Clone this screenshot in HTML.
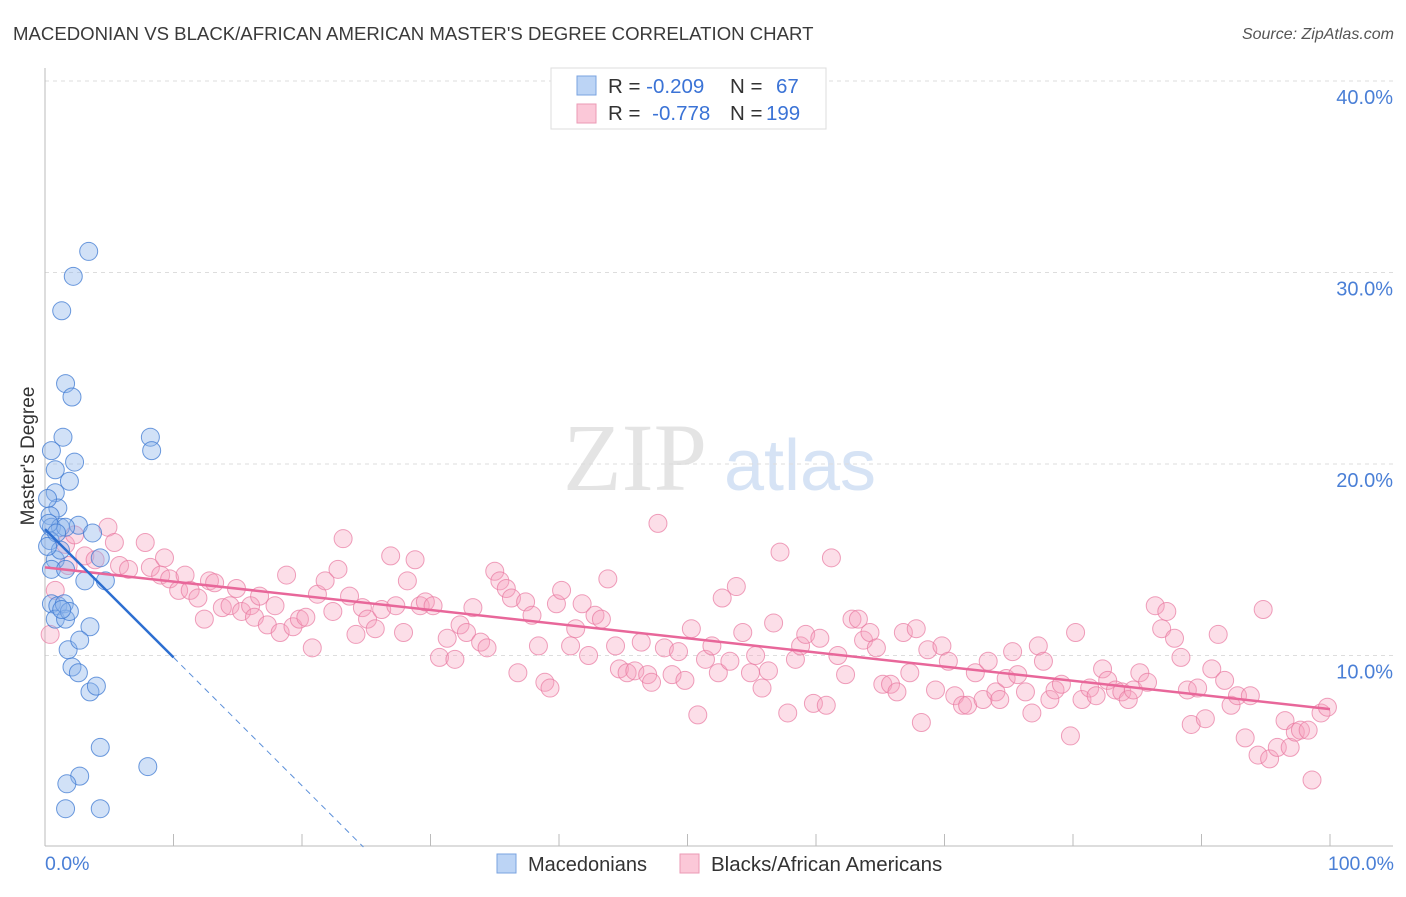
<!DOCTYPE html>
<html><head><meta charset="utf-8"><style>
body{margin:0;background:#fff;font-family:"Liberation Sans",sans-serif;}
svg text{font-family:"Liberation Sans",sans-serif;}
</style></head><body>
<svg width="1406" height="892" xmlns="http://www.w3.org/2000/svg">
<text x="13" y="40" font-size="18.6" fill="#3a3a3a">MACEDONIAN VS BLACK/AFRICAN AMERICAN MASTER'S DEGREE CORRELATION CHART</text>
<text x="1394" y="39" font-size="16" fill="#555" font-style="italic" text-anchor="end">Source: ZipAtlas.com</text>
<g>
<text x="635" y="490" font-size="96" fill="#e4e4e4" text-anchor="middle" font-family="Liberation Serif" style="font-family:'Liberation Serif',serif">ZIP</text>
<text x="800" y="490" font-size="72" fill="#d6e3f5" text-anchor="middle">atlas</text>
</g>
<g id="grid"></g>
<g id="axes"></g>
<g id="marks"></g>
<text x="34" y="456" font-size="19" fill="#333" text-anchor="middle" transform="rotate(-90 34 456)">Master's Degree</text>
<text x="45" y="870" font-size="19.5" fill="#4a7fd6">0.0%</text>
<text x="1394" y="870" font-size="19.5" fill="#4a7fd6" text-anchor="end">100.0%</text>
<g>
<rect x="551" y="68" width="275" height="61" fill="#fff" stroke="#ddd"/>
<rect x="577" y="76" width="19" height="19" fill="#bcd4f5" stroke="#7aa3e0"/>
<rect x="577" y="104" width="19" height="19" fill="#fbc8d8" stroke="#eb9ab5"/>
<text x="608" y="93" font-size="20.5" fill="#333">R = <tspan fill="#3b73d6">-0.209</tspan><tspan x="730">N = </tspan><tspan x="776" fill="#3b73d6">67</tspan></text>
<text x="608" y="120" font-size="20.5" fill="#333">R = <tspan fill="#3b73d6" dx="6">-0.778</tspan><tspan x="730">N = </tspan><tspan x="766" fill="#3b73d6">199</tspan></text>
</g>
<g>
<rect x="497" y="854" width="19" height="19" fill="#bcd4f5" stroke="#7aa3e0"/>
<text x="528" y="871" font-size="20" fill="#333">Macedonians</text>
<rect x="680" y="854" width="19" height="19" fill="#fbc8d8" stroke="#eb9ab5"/>
<text x="711" y="871" font-size="20.5" fill="#333">Blacks/African Americans</text>
</g>
</svg>
<script>
const yTicks=[10,20,30,40];
const yTickLabels=["10.0%","20.0%","30.0%","40.0%"];
const xTicks=[10,20,30,40,50,60,70,80,90,100];
const blueX=[3.4,2.2,1.3,1.6,2.1,1.4,8.2,8.3,0.5,2.3,0.8,1.9,0.8,1.0,0.2,0.4,0.5,1.2,2.6,3.7,1.6,0.4,0.8,4.3,1.2,0.5,1.6,4.7,3.1,0.5,1.0,1.5,0.8,1.6,1.9,3.5,1.8,2.7,2.1,2.6,3.5,4.0,4.3,8.0,2.7,1.7,1.6,4.3,0.3,0.9,0.2,1.3];
const blueY=[31.1,29.8,28.0,24.2,23.5,21.4,21.4,20.7,20.7,20.1,19.7,19.1,18.5,17.7,18.2,17.3,16.7,16.7,16.8,16.4,16.7,16.0,15.0,15.1,15.5,14.5,14.5,13.9,13.9,12.7,12.6,12.7,11.9,11.9,12.3,11.5,10.3,10.8,9.4,9.1,8.1,8.4,5.2,4.2,3.7,3.3,2.0,2.0,16.9,16.4,15.7,12.4];
const pinkX=[0.4,0.8,1.6,1.8,2.3,3.1,3.9,4.9,5.4,5.8,6.5,7.8,8.2,9.0,9.3,9.7,10.4,10.9,11.3,11.9,12.4,12.8,13.2,13.8,14.4,14.9,15.3,16.0,16.3,16.7,17.3,17.9,18.3,18.8,19.3,19.8,20.3,20.8,21.2,21.8,22.4,22.8,23.2,23.7,24.2,24.7,25.1,25.7,26.2,26.9,27.3,27.9,28.2,28.8,29.2,29.6,30.2,30.7,31.3,31.9,32.3,32.8,33.3,33.9,34.4,35.0,35.4,35.9,36.3,36.8,37.4,37.9,38.4,38.9,39.3,39.8,40.2,40.9,41.3,41.8,42.3,42.8,43.3,43.8,44.4,44.7,45.3,45.9,46.4,46.9,47.2,47.7,48.2,48.8,49.3,49.8,50.3,50.8,51.4,51.9,52.4,52.7,53.3,53.8,54.3,54.9,55.3,55.8,56.3,56.7,57.2,57.8,58.4,58.8,59.2,59.8,60.3,60.8,61.2,61.7,62.3,62.8,63.3,63.7,64.2,64.7,65.2,65.8,66.3,66.8,67.3,67.8,68.2,68.7,69.3,69.8,70.3,70.8,71.4,71.8,72.4,73.0,73.4,74.0,74.3,74.8,75.3,75.7,76.3,76.8,77.3,77.7,78.2,78.6,79.1,79.8,80.2,80.7,81.3,81.8,82.3,82.7,83.3,83.8,84.3,84.7,85.2,85.8,86.4,86.9,87.3,87.9,88.4,88.9,89.2,89.7,90.3,90.8,91.3,91.8,92.3,92.8,93.4,93.8,94.4,94.8,95.3,95.9,96.5,96.9,97.3,97.7,98.3,98.6,99.3,99.8];
const pinkY=[11.1,13.4,15.8,14.7,16.3,15.2,15.0,16.7,15.9,14.7,14.5,15.9,14.6,14.2,15.1,14.0,13.4,14.2,13.4,13.0,11.9,13.9,13.8,12.5,12.6,13.5,12.3,12.6,12.0,13.1,11.6,12.6,11.2,14.2,11.5,11.9,12.0,10.4,13.2,13.9,12.3,14.5,16.1,13.1,11.1,12.5,11.9,11.4,12.4,15.2,12.6,11.2,13.9,15.0,12.6,12.8,12.6,9.9,10.9,9.8,11.6,11.2,12.5,10.7,10.4,14.4,13.9,13.5,13.0,9.1,12.8,12.1,10.5,8.6,8.3,12.7,13.4,10.5,11.4,12.7,10.0,12.1,11.9,14.0,10.5,9.3,9.1,9.2,10.7,9.0,8.6,16.9,10.4,9.0,10.2,8.7,11.4,6.9,9.8,10.5,9.1,13.0,9.7,13.6,11.2,9.1,10.0,8.3,9.2,11.7,15.4,7.0,9.8,10.5,11.1,7.5,10.9,7.4,15.1,10.0,9.0,11.9,11.9,10.8,11.2,10.4,8.5,8.5,8.1,11.2,9.1,11.4,6.5,10.3,8.2,10.5,9.7,7.9,7.4,7.4,9.1,7.7,9.7,8.1,7.7,8.8,10.2,9.0,8.1,7.0,10.5,9.7,7.7,8.2,8.5,5.8,11.2,7.7,8.3,7.9,9.3,8.7,8.2,8.1,7.7,8.2,9.1,8.6,12.6,11.4,12.3,10.9,9.9,8.2,6.4,8.3,6.7,9.3,11.1,8.7,7.4,7.9,5.7,7.9,4.8,12.4,4.6,5.2,6.6,5.2,6.0,6.1,6.1,3.5,7.0,7.3];
const blueLine={intercept:16.6,slope:-0.67,solidEnd:10};
const pinkLine={intercept:14.6,slope:-0.074};

const NS="http://www.w3.org/2000/svg";
const X0=45,X1=1330,YB=847,PPY=19.15;
const sx=v=>X0+(X1-X0)*v/100;
const sy=v=>YB-v*PPY;
function mk(tag,attrs,parent){const e=document.createElementNS(NS,tag);for(const k in attrs)e.setAttribute(k,attrs[k]);parent.appendChild(e);return e;}
const grid=document.getElementById('grid'),axes=document.getElementById('axes'),marks=document.getElementById('marks');
yTicks.forEach((t,i)=>{
 const l=mk('line',{x1:45,x2:1393,y1:sy(t),y2:sy(t),stroke:'#ddd','stroke-dasharray':'4,4'},grid);
 
 
 const tx=mk('text',{x:1393,y:sy(t)+23,'font-size':20,fill:'#4a7fd6','text-anchor':'end'},axes);
 tx.textContent=yTickLabels[i];
 
 
});
const yl=mk('line',{x1:45,x2:45,y1:68,y2:846,stroke:'#bbb'},axes);


const xl=mk('line',{x1:45,x2:1393,y1:846,y2:846,stroke:'#bbb'},axes);


xTicks.forEach(t=>{
 const k=mk('line',{x1:sx(t),x2:sx(t),y1:834,y2:846,stroke:'#bbb'},axes);
 
 
});
pinkX.forEach((x,i)=>{
 const c=mk('circle',{cx:sx(x),cy:sy(pinkY[i]),r:9,fill:'rgba(246,160,190,0.35)',stroke:'rgba(232,120,160,0.7)','stroke-width':1},marks);
 
 
});
blueX.forEach((x,i)=>{
 const c=mk('circle',{cx:sx(x),cy:sy(blueY[i]),r:9,fill:'rgba(140,180,235,0.4)',stroke:'rgba(60,120,210,0.75)','stroke-width':1},marks);
 
 
});
const pl=mk('line',{x1:sx(0),y1:sy(pinkLine.intercept),x2:sx(100),y2:sy(pinkLine.intercept+pinkLine.slope*100),stroke:'#e8679a','stroke-width':2.5},marks);


const bl=mk('line',{x1:sx(0),y1:sy(blueLine.intercept),x2:sx(blueLine.solidEnd),y2:sy(blueLine.intercept+blueLine.slope*blueLine.solidEnd),stroke:'#2d6fd1','stroke-width':2.5},marks);


const xEnd=-blueLine.intercept/blueLine.slope;
const bd=mk('line',{x1:sx(blueLine.solidEnd),y1:sy(blueLine.intercept+blueLine.slope*blueLine.solidEnd),x2:sx(xEnd),y2:sy(0),stroke:'#5b8fd9','stroke-width':1,'stroke-dasharray':'6,5'},marks);


</script>
</body></html>
